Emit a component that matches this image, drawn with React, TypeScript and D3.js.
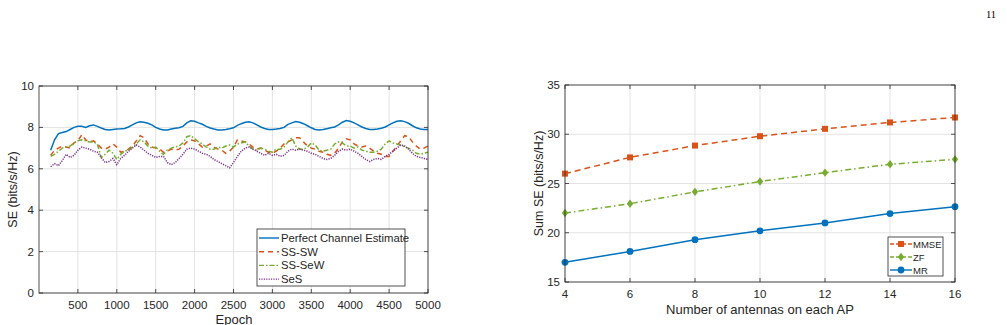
import React from 'react';
import * as d3 from 'd3';

// epochs sampled every 50 from 150 to 5000
const epochs = d3.range(150, 5001, 50);

const perfect = [
  6.9, 7.4, 7.7, 7.75, 7.8, 7.9, 8.0, 8.05, 8.05, 8.0,
  8.08, 8.12, 8.05, 7.97, 7.9, 7.88, 7.9, 7.92, 7.93, 7.95,
  8.02, 8.12, 8.22, 8.27, 8.25, 8.2, 8.12, 8.0, 7.92, 7.88,
  7.88, 7.92, 7.96, 7.98, 8.05, 8.22, 8.32, 8.3, 8.22, 8.15,
  8.05, 7.97, 7.92, 7.88, 7.88, 7.9, 7.93, 7.98, 8.1, 8.18,
  8.25, 8.27, 8.22, 8.12, 8.02, 7.95, 7.9, 7.9, 7.92, 7.95,
  8.0, 8.15, 8.22, 8.28, 8.25, 8.18, 8.08, 7.98, 7.9, 7.88,
  7.9, 7.94, 7.98, 8.02, 8.12, 8.25, 8.33, 8.3, 8.22, 8.12,
  8.02, 7.95, 7.9, 7.9, 7.92, 7.96, 8.02, 8.12, 8.22, 8.3,
  8.32, 8.28, 8.2, 8.08, 7.98, 7.92, 7.9, 7.9
];
const ssSW = [
  6.65, 6.9, 7.0, 7.1, 7.05, 7.0, 7.25, 7.35, 7.65, 7.4,
  7.3, 7.35, 7.2, 7.0, 6.95, 7.05, 7.2, 7.05, 6.8, 6.85,
  6.95, 7.1, 7.35, 7.6, 7.5, 7.2, 7.05, 7.0, 6.95, 6.8,
  6.85, 6.95, 6.9, 6.95, 7.1, 7.3, 7.4, 7.35, 7.2, 7.05,
  7.1, 7.2, 7.05, 6.95, 6.9, 6.75, 6.85, 7.05, 7.4, 7.35,
  7.3, 7.2, 7.05, 6.95, 7.0, 6.9, 6.8, 6.75, 6.85, 7.0,
  7.2, 7.3, 7.4, 7.5, 7.5, 7.3, 7.1, 7.0, 6.95, 6.85,
  6.8, 6.7, 6.65, 6.75, 7.0, 7.3, 7.45, 7.4, 7.2, 7.1,
  7.05, 7.1, 7.0, 6.85, 6.75, 6.7, 6.6, 6.6, 6.85, 7.1,
  7.35, 7.6, 7.55, 7.3, 7.1, 6.95, 7.0, 7.1
];
const ssSeW = [
  6.6, 6.7, 6.85, 7.0, 7.05, 7.1, 7.25, 7.35, 7.4, 7.35,
  7.3, 7.3, 7.2, 6.55, 6.7, 6.9, 6.75, 6.45, 6.7, 6.85,
  6.9, 7.05, 7.2, 7.4, 7.3, 7.1, 7.0, 7.05, 6.85, 6.7,
  6.9, 7.0, 7.05, 7.1, 7.25, 7.55, 7.6, 7.45, 7.3, 7.2,
  7.05, 6.95, 6.95, 7.05, 7.0, 7.1, 7.15, 7.05, 7.2, 7.25,
  7.3, 7.1, 6.95, 6.9, 7.0, 6.95, 6.85, 6.8, 6.95, 6.95,
  7.05, 7.3, 7.5, 7.1, 6.95, 6.95, 7.05, 7.25, 7.15, 6.9,
  6.85, 6.9, 6.95, 7.2, 7.3, 7.25, 7.1, 7.1, 7.0, 7.05,
  6.9, 6.85, 6.8, 6.8, 6.85, 6.95, 7.2, 7.35, 7.25, 7.2,
  7.15, 7.05, 7.0, 6.9, 6.75, 6.7, 6.75, 6.8
];
const seS = [
  6.1, 6.25, 6.15, 6.4, 6.7, 6.55, 6.65, 6.9, 7.05, 7.0,
  6.95, 6.85, 6.8, 6.55, 6.3, 6.35, 6.5, 6.2, 6.5, 6.65,
  6.85, 7.0, 7.15, 7.05, 6.9, 6.75, 6.65, 6.55, 6.6, 6.6,
  6.3, 6.2, 6.3, 6.5, 6.7, 6.95, 7.0, 6.95, 6.85, 6.75,
  6.7, 6.6, 6.45, 6.35, 6.25, 6.15, 6.05, 6.3, 6.6, 6.85,
  7.0, 7.05, 6.95, 6.85, 6.75, 6.65, 6.75, 6.65, 6.7, 6.6,
  6.65, 6.85, 6.95, 6.9, 6.95, 6.9, 6.85, 6.75, 6.7, 6.6,
  6.5, 6.45, 6.5, 6.65, 6.85, 6.95, 6.9, 6.95, 6.85, 6.75,
  6.6, 6.45, 6.35, 6.45, 6.5, 6.45, 6.6, 6.7, 6.85, 7.0,
  7.15, 7.1, 6.95, 6.75, 6.6, 6.55, 6.5, 6.45
];

const leftXTicks = [500, 1000, 1500, 2000, 2500, 3000, 3500, 4000, 4500, 5000];
const leftYTicks = [0, 2, 4, 6, 8, 10];

const antennas = [4, 6, 8, 10, 12, 14, 16];
const mmse = [26.0, 27.65, 28.85, 29.8, 30.55, 31.2, 31.7];
const zf = [22.0, 22.95, 24.15, 25.2, 26.1, 26.95, 27.45];
const mr = [17.0, 18.1, 19.3, 20.2, 21.0, 21.95, 22.65];
const rightYTicks = [15, 20, 25, 30, 35];

const BLUE = '#0072BD';
const ORANGE = '#D95319';
const GREEN = '#77AC30';
const PURPLE = '#7E2F8E';
const AX = '#262626';
const GRID = '#e3e3e3';
const FONT = '"Liberation Sans", Arial, Helvetica, sans-serif';

function Grid({ x, y, xTicks, yTicks }) {
  const [x0, x1] = x.range();
  const [y0, y1] = y.range();
  return (
    <g>
      {xTicks.map(t => (
        <line key={'gx' + t} x1={x(t)} x2={x(t)} y1={y0} y2={y1} stroke={GRID} strokeWidth={1} />
      ))}
      {yTicks.map(t => (
        <line key={'gy' + t} x1={x0} x2={x1} y1={y(t)} y2={y(t)} stroke={GRID} strokeWidth={1} />
      ))}
    </g>
  );
}

function Axes({ x, y, xTicks, yTicks }) {
  const [x0, x1] = x.range();
  const [y0, y1] = y.range();
  const tl = 4;
  return (
    <g fontFamily={FONT} fontSize={11.5} fill={AX}>
      <rect x={x0} y={y1} width={x1 - x0} height={y0 - y1} fill="none" stroke={AX} strokeWidth={0.8} />
      {xTicks.map(t => (
        <g key={'tx' + t}>
          <line x1={x(t)} x2={x(t)} y1={y0} y2={y0 - tl} stroke={AX} strokeWidth={0.8} />
          <line x1={x(t)} x2={x(t)} y1={y1} y2={y1 + tl} stroke={AX} strokeWidth={0.8} />
          <text x={x(t)} y={y0 + 16} textAnchor="middle">{t}</text>
        </g>
      ))}
      {yTicks.map(t => (
        <g key={'ty' + t}>
          <line x1={x0} x2={x0 + tl} y1={y(t)} y2={y(t)} stroke={AX} strokeWidth={0.8} />
          <line x1={x1} x2={x1 - tl} y1={y(t)} y2={y(t)} stroke={AX} strokeWidth={0.8} />
          <text x={x0 - 5} y={y(t) + 4} textAnchor="end">{t}</text>
        </g>
      ))}
    </g>
  );
}

function LeftChart() {
  const x = d3.scaleLinear().domain([0, 5000]).range([39, 428]);
  const y = d3.scaleLinear().domain([0, 10]).range([293, 86]);
  const line = d3.line<number>().x((_, i) => x(epochs[i])).y(d => y(d));
  const series = [
    { name: 'Perfect Channel Estimate', data: perfect, color: BLUE, dash: null },
    { name: 'SS-SW', data: ssSW, color: ORANGE, dash: '5,4' },
    { name: 'SS-SeW', data: ssSeW, color: GREEN, dash: '5,2,1.5,2' },
    { name: 'SeS', data: seS, color: PURPLE, dash: '1.2,1.2' },
  ];
  return (
    <g>
      <Grid x={x} y={y} xTicks={leftXTicks} yTicks={leftYTicks} />
      {series.map(s => (
        <path key={s.name} d={line(s.data)} fill="none" stroke={s.color} strokeWidth={1.5}
          strokeDasharray={s.dash || undefined} />
      ))}
      <Axes x={x} y={y} xTicks={leftXTicks} yTicks={leftYTicks} />
      <text x={234} y={323.5} textAnchor="middle" fontFamily={FONT} fontSize={13} fill={AX}>Epoch</text>
      <text transform={`translate(17,${(86 + 293) / 2}) rotate(-90)`} textAnchor="middle"
        fontFamily={FONT} fontSize={12.5} fill={AX}>SE (bits/s/Hz)</text>
      <g fontFamily={FONT} fontSize={11.3} fill={AX}>
        <rect x={257} y={229} width={148} height={57} fill="#fff" stroke={AX} strokeWidth={0.8} />
        {series.map((s, i) => (
          <g key={'lg' + s.name}>
            <line x1={259} x2={279} y1={238 + i * 13.7} y2={238 + i * 13.7} stroke={s.color} strokeWidth={1.4}
              strokeDasharray={s.dash || undefined} />
            <text x={281} y={242 + i * 13.7}>{s.name}</text>
          </g>
        ))}
      </g>
    </g>
  );
}

function Marker({ kind, cx, cy, color }) {
  if (kind === 'square') return <rect x={cx - 3} y={cy - 3} width={6} height={6} fill={color} />;
  if (kind === 'diamond') return <path d={`M${cx},${cy - 4.2}L${cx + 3.2},${cy}L${cx},${cy + 4.2}L${cx - 3.2},${cy}Z`} fill={color} />;
  return <circle cx={cx} cy={cy} r={3.4} fill={color} />;
}

function RightChart() {
  const x = d3.scaleLinear().domain([4, 16]).range([565, 955]);
  const y = d3.scaleLinear().domain([15, 35]).range([282, 85]);
  const line = d3.line<number>().x((_, i) => x(antennas[i])).y(d => y(d));
  const series = [
    { name: 'MMSE', data: mmse, color: ORANGE, dash: '6,4', marker: 'square' },
    { name: 'ZF', data: zf, color: GREEN, dash: '6,3,1.5,3', marker: 'diamond' },
    { name: 'MR', data: mr, color: BLUE, dash: null, marker: 'circle' },
  ];
  return (
    <g>
      <Grid x={x} y={y} xTicks={antennas} yTicks={rightYTicks} />
      {series.map(s => (
        <g key={s.name}>
          <path d={line(s.data)} fill="none" stroke={s.color} strokeWidth={1.5}
            strokeDasharray={s.dash || undefined} />
          {s.data.map((v, i) => (
            <Marker key={i} kind={s.marker} cx={x(antennas[i])} cy={y(v)} color={s.color} />
          ))}
        </g>
      ))}
      <Axes x={x} y={y} xTicks={antennas} yTicks={rightYTicks} />
      <text x={760} y={314} textAnchor="middle" fontFamily={FONT} fontSize={13} fill={AX}>Number of antennas on each AP</text>
      <text transform={`translate(543,${(85 + 282) / 2}) rotate(-90)`} textAnchor="middle"
        fontFamily={FONT} fontSize={12.5} fill={AX}>Sum SE (bits/s/Hz)</text>
      <g fontFamily={FONT} fontSize={9.5} fill={AX}>
        <rect x={888} y={237} width={55} height={39} fill="#fff" stroke={AX} strokeWidth={0.8} />
        {series.map((s, i) => (
          <g key={'lg' + s.name}>
            <line x1={890} x2={912} y1={244 + i * 13} y2={244 + i * 13} stroke={s.color} strokeWidth={1.4}
              strokeDasharray={s.dash ? '4,2' : undefined} />
            <Marker kind={s.marker} cx={901} cy={244 + i * 13} color={s.color} />
            <text x={913} y={247.5 + i * 13}>{s.name}</text>
          </g>
        ))}
      </g>
    </g>
  );
}

export default function App() {
  return (
    <svg width={1007} height={325} style={{ position: 'absolute', left: 0, top: 0, background: '#fff' }}>
      <text x={986} y={18} fontFamily='"Liberation Serif", "Times New Roman", serif' fontSize={10.5} fill="#000">11</text>
      <LeftChart />
      <RightChart />
    </svg>
  );
}
